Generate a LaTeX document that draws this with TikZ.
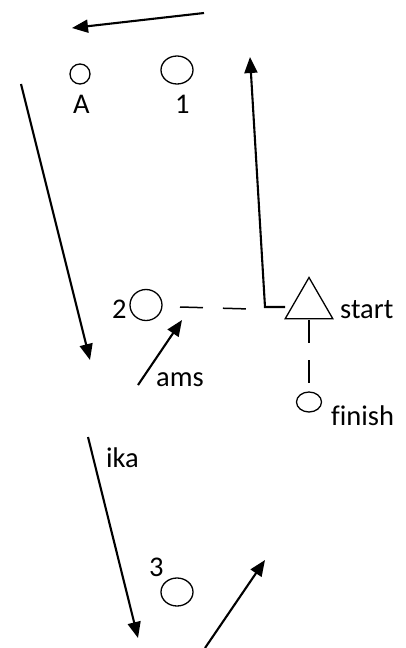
\documentclass[tikz,border=0pt]{standalone}
\usepackage{fontspec}
\setmainfont{Carlito}[Ligatures=CommonOff]
\usetikzlibrary{arrows.meta,shapes.geometric}

\begin{document}
\begin{tikzpicture}[x=1pt,y=-1pt,>={Triangle[length=16pt,width=13pt]},
	font=\fontsize{28.5}{34}\selectfont,
	run/.style={->,line width=2.1pt},
	spot/.style={ellipse,draw,line width=1.3pt,inner sep=0pt},
	cone/.style={regular polygon,regular polygon sides=3,draw,line width=1.3pt,inner sep=0pt,minimum size=55pt},
	dashline/.style={line width=1.5pt,dash pattern=on 23pt off 20pt},
	lbl/.style={inner sep=0pt,anchor=base west}]

	\useasboundingbox (0,0) rectangle (406,648);

	\node[spot,minimum width=20pt,minimum height=20pt] (A) at (80,74) {};
	\node[spot,minimum width=32pt,minimum height=28pt] (one) at (177,70) {};
	\node[spot,minimum width=32pt,minimum height=31pt] (two) at (146,305) {};
	\node[spot,minimum width=32pt,minimum height=28pt] (three) at (177,592) {};
	\node[spot,minimum width=25pt,minimum height=20pt] (finish) at (309,402) {};
	\node[cone] (start) at (309,305) {};

	\node[lbl] (lA) at (73,113) {A};
	\node[lbl] (lone) at (175,113) {1};
	\node[lbl] (ltwo) at (112,318) {2};
	\node[lbl] (lthree) at (149,576) {3};
	\node[lbl] (lstart) at (340,318) {start};
	\node[lbl] (lfinish) at (331,425) {finish};
	\node[lbl] (lams) at (156,386) {ams};
	\node[lbl] (lika) at (106,467) {ika};

	\coordinate (top0) at (204,13);
	\coordinate (top1) at (72,28);
	\coordinate (down0) at (21,84);
	\coordinate (down1) at (90,360);
	\coordinate (up0) at (285,307);
	\coordinate (up1) at (265,307);
	\coordinate (up2) at (250,57);
	\coordinate (ams0) at (138,385);
	\coordinate (ams1) at (182,320);
	\coordinate (ika0) at (88,437);
	\coordinate (ika1) at (138,638);
	\coordinate (out0) at (205,648);
	\coordinate (out1) at (265,560);
	\coordinate (dash0) at (180,307);
	\coordinate (dash1) at (250,309);

	\draw[run] (top0) -- (top1);
	\draw[run] (down0) -- (down1);
	\draw[run] (up0) -- (up1) -- (up2);
	\draw[run] (ams0) -- (ams1);
	\draw[run] (ika0) -- (ika1);
	\draw[run] (out0) -- (out1);

	\draw[dashline] (dash0) -- (dash1);
	\draw[dashline,dash pattern=on 23pt off 17pt,shorten <=1pt,shorten >=6pt] (start.south) -- (finish.north);
\end{tikzpicture}
\end{document}
